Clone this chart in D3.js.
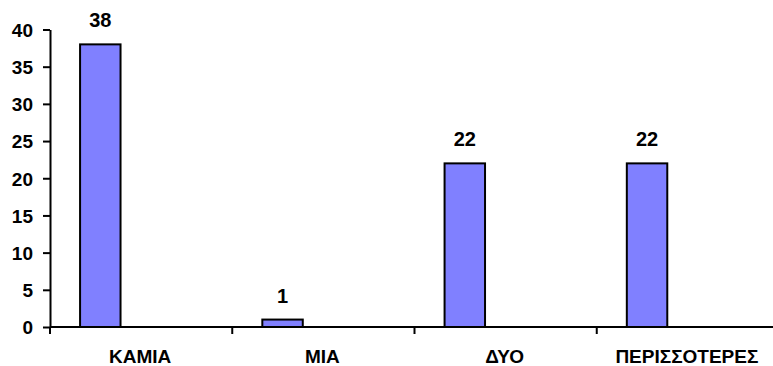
<!DOCTYPE html>
<html>
<head>
<meta charset="utf-8">
<script src="https://cdn.jsdelivr.net/npm/d3@7"></script>
<style>
  html, body { margin: 0; padding: 0; background: #fff; overflow: hidden; }
  svg { display: block; font-family: Arial, "Liberation Sans", sans-serif; font-weight: bold; }
</style>
</head>
<body>
<svg id="chart" width="773" height="366"></svg>
<script>
// Answers per category
const categories = ["ΚΑΜΙΑ", "ΜΙΑ", "ΔΥΟ", "ΠΕΡΙΣΣΟΤΕΡΕΣ"];
const values = [38, 1, 22, 22];
const yTicks = [0, 5, 10, 15, 20, 25, 30, 35, 40];

const svg = d3.select("#chart");
const x0 = 50, x1 = 779, yTop = 29.5, yBottom = 327;

const x = d3.scaleBand().domain(categories).range([x0, x1]).paddingInner(0).paddingOuter(0);
const y = d3.scaleLinear().domain([0, 40]).range([yBottom, yTop]);

// bar sits in the left part of each band
const barOffset = x.bandwidth() * 0.165;
const barWidth = x.bandwidth() * 0.222;

svg.append("g")
  .selectAll("rect")
  .data(values)
  .join("rect")
  .attr("x", (d, i) => x(categories[i]) + barOffset)
  .attr("y", d => y(d))
  .attr("width", barWidth)
  .attr("height", d => yBottom - y(d))
  .attr("fill", "#8080ff")
  .attr("stroke", "#000")
  .attr("stroke-width", 2);

// value labels
svg.append("g")
  .selectAll("text")
  .data(values)
  .join("text")
  .attr("x", (d, i) => x(categories[i]) + barOffset + barWidth / 2)
  .attr("y", d => y(d) - 17)
  .attr("text-anchor", "middle")
  .attr("font-size", 20)
  .attr("fill", "#000")
  .text(d => d);

// y axis
const yAxis = d3.axisLeft(y).tickValues(yTicks).tickSize(7).tickPadding(10).tickSizeOuter(0);
const gy = svg.append("g").attr("transform", `translate(${x0},0)`).call(yAxis);
gy.attr("font-family", null).attr("font-size", null);
gy.select(".domain").attr("stroke", "#000").attr("stroke-width", 2);
gy.selectAll(".tick line").attr("stroke", "#000").attr("stroke-width", 2);
gy.selectAll(".tick text").attr("font-size", 19).attr("fill", "#000").attr("dy", "0.36em");

// x axis: ticks at band boundaries, labels centered in bands
const boundaries = categories.map(c => x(c));
const gx = svg.append("g").attr("transform", `translate(0,${yBottom})`);
gx.append("line")
  .attr("x1", x0).attr("x2", x1)
  .attr("stroke", "#000").attr("stroke-width", 2);
gx.selectAll("line.tk")
  .data(boundaries)
  .join("line")
  .attr("class", "tk")
  .attr("x1", d => d).attr("x2", d => d)
  .attr("y1", 0).attr("y2", 7)
  .attr("stroke", "#000").attr("stroke-width", 2);
gx.selectAll("text")
  .data(categories)
  .join("text")
  .attr("x", d => x(d) + x.bandwidth() / 2 - 1)
  .attr("y", 35.7)
  .attr("text-anchor", "middle")
  .attr("font-size", 19)
  .attr("fill", "#000")
  .text(d => d);
</script>
</body>
</html>
